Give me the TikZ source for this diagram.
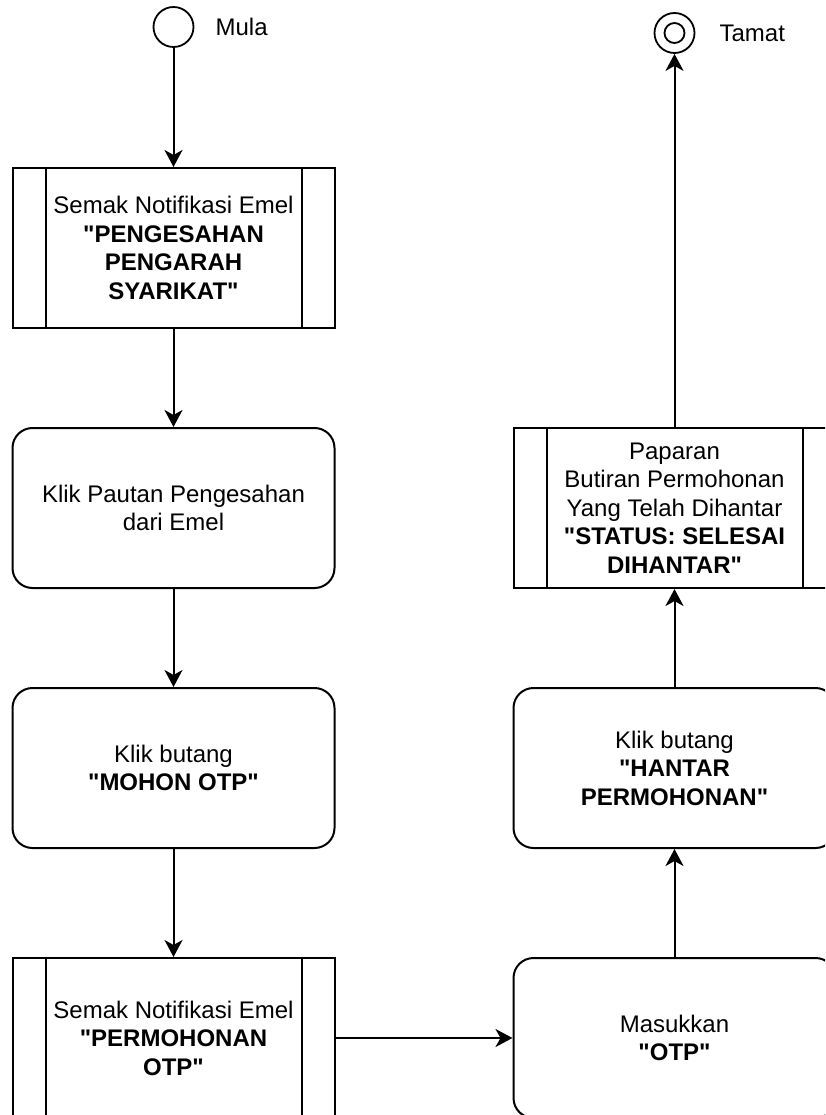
\documentclass[tikz,border=0pt]{standalone}
\usepackage{fontspec}
\setmainfont{Liberation Sans}[Ligatures=TeXOff]
\usetikzlibrary{arrows.meta}
\usetikzlibrary{positioning}
\tikzset{
	flowbox/.style={draw,line width=2pt,minimum width=322pt,minimum height=160pt,inner sep=0pt,align=center,font=\fontsize{24}{28.5}\selectfont},
	actbox/.style={flowbox,rounded corners=20pt},
	subbox/.style={flowbox,path picture={
		\draw[line width=2pt] ([xshift=33pt]path picture bounding box.north west)--([xshift=33pt]path picture bounding box.south west);
		\draw[line width=2pt] ([xshift=-33pt]path picture bounding box.north east)--([xshift=-33pt]path picture bounding box.south east);}},
	flowarr/.style={line width=2pt,-{Stealth[length=17pt,width=18pt,inset=5pt]}},
	statedot/.style={draw,circle,line width=1.8pt,inner sep=0pt},
	caption/.style={inner sep=0pt,font=\fontsize{24}{28.5}\selectfont}
}
\begin{document}
\begin{tikzpicture}[x=1pt,y=-1pt]
	\useasboundingbox (0,0) rectangle (825,1115);
	\clip (0,0) rectangle (825,1115);
	
	%START AND END
	\node[statedot,minimum size=40pt] (start) at (173.5,27) {};
	\node[caption,right=21pt of start] (mula) {Mula};
	\node[statedot,minimum size=40pt] (finish) at (674.5,33) {};
	\node[statedot,minimum size=20pt] (finishin) at (finish) {};
	\node[caption,right=24pt of finish] (tamat) {Tamat};
	
	%LEFT COLUMN
	\node[subbox] (semak1) at (173.5,248) {Semak Notifikasi Emel\\ \textbf{"PENGESAHAN}\\ \textbf{PENGARAH}\\ \textbf{SYARIKAT"}};
	\node[actbox] (pautan) at (173.5,508) {Klik Pautan Pengesahan\\ dari Emel};
	\node[actbox] (mohon) at (173.5,768) {Klik butang\\ \textbf{"MOHON OTP"}};
	\node[subbox] (semak2) at (173.5,1038) {Semak Notifikasi Emel\\ \textbf{"PERMOHONAN}\\ \textbf{OTP"}};
	
	%RIGHT COLUMN
	\node[actbox] (otp) at (674.5,1038) {Masukkan\\ \textbf{"OTP"}};
	\node[actbox] (hantar) at (674.5,768) {Klik butang\\ \textbf{"HANTAR}\\ \textbf{PERMOHONAN"}};
	\node[subbox] (paparan) at (674.5,508) {Paparan\\ Butiran Permohonan\\ Yang Telah Dihantar\\ \textbf{"STATUS: SELESAI}\\ \textbf{DIHANTAR"}};
	
	%ARROWS
	\draw[flowarr] (start)--(semak1);
	\draw[flowarr] (semak1)--(pautan);
	\draw[flowarr] (pautan)--(mohon);
	\draw[flowarr] (mohon)--(semak2);
	\draw[flowarr] (semak2)--(otp);
	\draw[flowarr] (otp)--(hantar);
	\draw[flowarr] (hantar)--(paparan);
	\draw[flowarr] (paparan)--(finish);
\end{tikzpicture}
\end{document}
